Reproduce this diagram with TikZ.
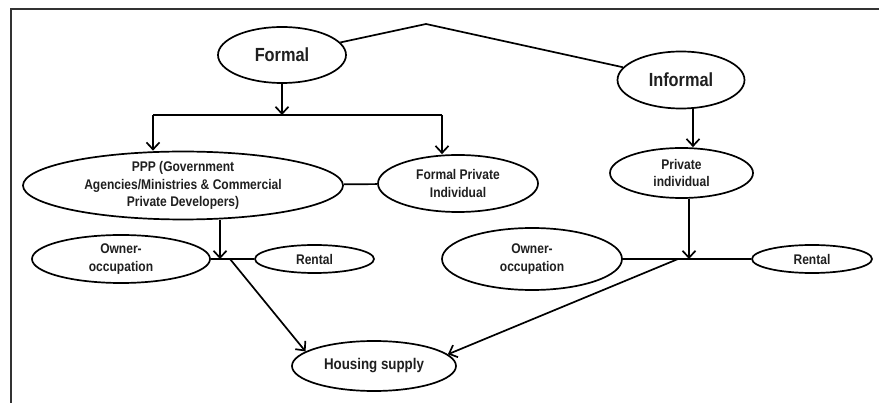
\documentclass[tikz,border=0pt]{standalone}
\usepackage{fontspec}
\setmainfont{Liberation Sans}[FakeStretch=0.86]
\usetikzlibrary{shapes.geometric,arrows.meta}
\begin{document}
\begin{tikzpicture}[x=1pt,y=-1pt,
  every node/.style={text=black!88},
  oval/.style={draw=black, line width=1.7pt, ellipse, inner sep=0pt, align=center,
    font=\fontsize{14}{17.5}\selectfont\bfseries},
  bigoval/.style={oval, font=\fontsize{19}{22}\selectfont\bfseries},
  conn/.style={draw=black, line width=1.7pt},
  arr/.style={conn, -{Straight Barb[length=7pt,width=13pt]}},
  frame/.style={draw=black!80, line width=2pt}
]
\useasboundingbox (0,0) rectangle (879,403);
% frame
\draw[frame] (11,403) -- (11,9.5) -- (879,9.5);

% nodes
\node[bigoval, minimum width=128pt, minimum height=56pt] (formal) at (282,55) {Formal};
\node[bigoval, minimum width=127pt, minimum height=57pt] (informal) at (681,80) {Informal};
\node[oval, minimum width=320pt, minimum height=55pt] (ppp) at (183,185.5)
  {PPP (Government\\Agencies/Ministries \& Commercial\\Private Developers)};
\node[oval, minimum width=160pt, minimum height=57pt] (fpi) at (458,183.5) {Formal Private\\Individual};
\node[oval, minimum width=143pt, minimum height=50pt] (pi) at (681.5,173) {Private\\individual};
\node[oval, minimum width=178pt, minimum height=48pt] (ooL) at (121,259) {Owner-\\occupation};
\node[oval, minimum width=119pt, minimum height=28pt] (rentL) at (314.5,259) {Rental};
\node[oval, minimum width=180pt, minimum height=62pt] (ooR) at (532,259) {Owner-\\occupation};
\node[oval, minimum width=120pt, minimum height=28pt] (rentR) at (812,259) {Rental};
\node[oval, minimum width=164pt, minimum height=50pt,
  font=\fontsize{15.5}{18}\selectfont\bfseries] (house) at (374,366) {Housing supply};

% formal / informal link
\coordinate (peak) at (426,24);
\draw[conn] (formal) -- (peak) -- (informal);

% formal branch
\coordinate (barL) at (153,115);
\coordinate (barR) at (442,115);
\draw[conn] (barL) -- (barR);
\draw[arr] (formal.south) -- (formal.south |- barL);
\draw[arr] (barL) -- (barL |- ppp.north);
\draw[arr] (barR) -- (barR |- fpi.north);
\draw[conn] (ppp) -- (fpi);

% informal branch
\coordinate (ix) at (693,0);
\draw[arr] (ix |- informal.south) -- (ix |- pi.north);

% left bottom
\coordinate (jL) at (220,259);
\coordinate (dL) at (230,259);
\draw[conn] (ooL.east) -- (rentL.west);
\draw[arr] (jL |- ppp.south) -- (jL);
\draw[arr] (dL) -- (house.168);

% right bottom
\coordinate (jR) at (689,259);
\coordinate (dR) at (678,259);
\draw[conn] (ooR.east) -- (rentR.west);
\draw[arr] (jR |- pi.south) -- (jR);
\draw[arr] (dR) -- (house.9);
\end{tikzpicture}
\end{document}
